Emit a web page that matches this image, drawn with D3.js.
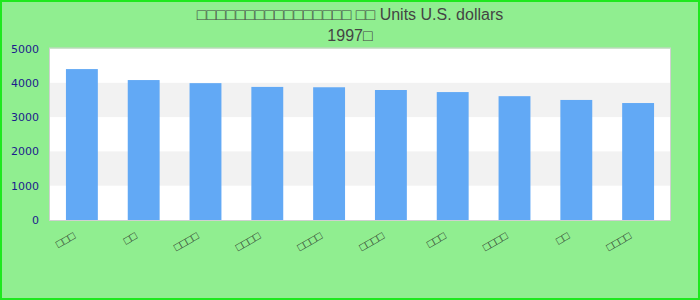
<!DOCTYPE html>
<html lang="zh">
<head>
<meta charset="UTF-8">
<title>1997 Units U.S. dollars</title>
<script src="https://d3js.org/d3.v7.min.js"></script>
<style>
  body { margin: 0; }
  .title { font: 16px "Liberation Sans", Arial, sans-serif; fill: #444; }
  .yaxis text { font: 11px "DejaVu Sans", sans-serif; fill: #1c1c8c; }
  .xlab { font: 11px "Liberation Sans", Arial, sans-serif; fill: #222; }
</style>
</head>
<body>
<script>
// data (labels show as missing glyphs there)
const categories = ["□□□", "□□", "□□□□", "□□□□", "□□□□", "□□□□", "□□□", "□□□□", "□□", "□□□□"];
const values = [4400, 4080, 3990, 3880, 3870, 3790, 3730, 3610, 3500, 3410];
const yTicks = [0, 1000, 2000, 3000, 4000, 5000];
const titleLines = ["□□□□□□□□□□□□□□□□ □□ Units U.S. dollars", "1997□"];

const W = 700, H = 300;
const plot = {left: 50, right: 670, top: 48.5, bottom: 220};

const svg = d3.select("body").append("svg")
    .attr("width", W)
    .attr("height", H);

// background + outer border
svg.append("rect")
    .attr("x", 1).attr("y", 1)
    .attr("width", W - 2).attr("height", H - 2)
    .attr("fill", "#90ee90")
    .attr("stroke", "#1ee81e")
    .attr("stroke-width", 2);

// title
svg.selectAll("text.title")
    .data(titleLines)
    .enter().append("text")
    .attr("class", "title")
    .attr("x", W / 2)
    .attr("y", (d, i) => 20 + i * 21)
    .attr("text-anchor", "middle")
    .text(d => d);

// category names repeat (all missing glyphs), so the band scale works on indices
const x = d3.scaleBand()
    .domain(d3.range(categories.length))
    .range([plot.left, plot.right])
    .paddingInner(0.484)
    .paddingOuter(0.258);

const y = d3.scaleLinear()
    .domain([0, 5000])
    .range([plot.bottom, plot.top]);

// plot background with alternating bands
svg.append("rect")
    .attr("x", plot.left).attr("y", plot.top)
    .attr("width", plot.right - plot.left)
    .attr("height", plot.bottom - plot.top)
    .attr("fill", "#fff");

svg.selectAll("rect.band")
    .data(yTicks.slice(0, -1).filter((d, i) => i % 2 === 1))
    .enter().append("rect")
    .attr("class", "band")
    .attr("x", plot.left)
    .attr("y", d => y(d + 1000))
    .attr("width", plot.right - plot.left)
    .attr("height", d => y(d) - y(d + 1000))
    .attr("fill", "#f2f2f2");

// bars
svg.selectAll("rect.bar")
    .data(values)
    .enter().append("rect")
    .attr("class", "bar")
    .attr("x", (d, i) => x(i))
    .attr("y", d => y(d))
    .attr("width", x.bandwidth())
    .attr("height", d => y(0) - y(d))
    .attr("fill", "#62a9f5");

// plot frame
svg.append("rect")
    .attr("x", plot.left - 0.5).attr("y", plot.top - 0.5)
    .attr("width", plot.right - plot.left + 1)
    .attr("height", plot.bottom - plot.top + 1)
    .attr("fill", "none")
    .attr("stroke", "#d0d0d0");

// y axis
const yAxis = svg.append("g")
    .attr("class", "yaxis")
    .attr("transform", `translate(${plot.left},0)`)
    .call(d3.axisLeft(y).tickValues(yTicks).tickFormat(d3.format("d")).tickSize(0).tickPadding(11));
yAxis.select(".domain").remove();

// x labels, rotated
svg.selectAll("text.xlab")
    .data(categories)
    .enter().append("text")
    .attr("class", "xlab")
    .attr("text-anchor", "end")
    .attr("transform", (d, i) => `translate(${x(i) + x.bandwidth() / 2 - 6},238) rotate(-30)`)
    .text(d => d);
</script>
</body>
</html>
